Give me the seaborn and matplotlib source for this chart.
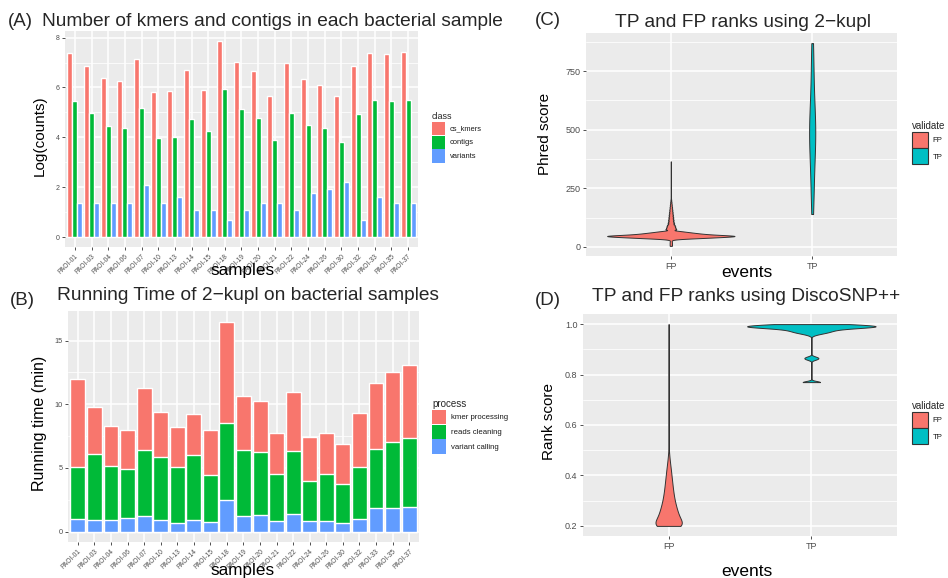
import numpy as np
import pandas as pd
import matplotlib
matplotlib.use("Agg")
import matplotlib.pyplot as plt
from matplotlib.patches import Patch
from matplotlib.ticker import MultipleLocator, FormatStrFormatter
import seaborn as sns

# ---------------- data ----------------
samples = ["PAOI-01", "PAOI-03", "PAOI-04", "PAOI-06", "PAOI-07", "PAOI-10", "PAOI-13",
           "PAOI-14", "PAOI-15", "PAOI-18", "PAOI-19", "PAOI-20", "PAOI-21", "PAOI-22",
           "PAOI-24", "PAOI-26", "PAOI-30", "PAOI-32", "PAOI-33", "PAOI-35", "PAOI-37"]

# (A) log counts
cs_kmers = [7.40, 6.87, 6.39, 6.27, 7.14, 5.83, 5.87, 6.72, 5.90, 7.87, 7.04,
            6.68, 5.66, 6.98, 6.34, 6.10, 5.66, 6.86, 7.39, 7.35, 7.43]
contigs = [5.47, 4.99, 4.45, 4.38, 5.19, 3.98, 4.02, 4.75, 4.26, 5.95, 5.15,
           4.79, 3.90, 4.99, 4.50, 4.38, 3.82, 4.95, 5.51, 5.47, 5.51]
variants = [1.39, 1.39, 1.39, 1.39, 2.08, 1.39, 1.61, 1.10, 1.10, 0.69, 1.10,
            1.39, 1.39, 1.10, 1.79, 1.95, 2.20, 0.69, 1.61, 1.39, 1.39]
class_levels = ["cs_kmers", "contigs", "variants"]

# (B) running time (min)
kmer_processing = [6.95, 3.70, 3.14, 3.07, 4.87, 3.55, 3.14, 3.23, 3.54, 7.95, 4.24,
                   4.01, 3.22, 4.64, 3.46, 3.22, 3.15, 4.28, 5.20, 5.51, 5.74]
reads_cleaning = [4.06, 5.19, 4.25, 3.85, 5.20, 4.95, 4.41, 5.11, 3.70, 6.06, 5.20,
                  4.96, 3.70, 4.96, 3.15, 3.70, 3.07, 4.06, 4.64, 5.19, 5.43]
variant_calling = [1.00, 0.92, 0.92, 1.08, 1.23, 0.92, 0.68, 0.92, 0.76, 2.49, 1.23,
                   1.31, 0.84, 1.39, 0.84, 0.84, 0.68, 1.00, 1.86, 1.86, 1.94]
process_levels = ["kmer processing", "reads cleaning", "variant calling"]

# (C) Phred scores of events (value, number of events)
fp_c_values = [4, 9, 14, 19, 24, 29, 32, 35, 38, 41, 44, 47, 50, 53, 56, 59, 62, 65, 68,
               75, 81, 87, 93, 100, 107, 114, 121, 128, 135, 142, 149, 156, 163, 170,
               177, 184, 191, 198, 205, 215, 240, 280, 320, 365]
fp_c_counts = [10, 10, 10, 10, 8, 8, 20, 90, 180, 250, 330, 360, 270, 200, 160, 130, 100, 70, 45,
               55, 47, 43, 39, 35, 31, 29, 27, 25, 23, 21, 19, 17, 15, 13,
               11, 9, 7, 5, 3, 2, 1, 1, 1, 1]
tp_c_values = [140, 200, 260, 310, 350, 390, 420, 450, 470, 490, 510, 530, 560, 590,
               630, 680, 740, 810, 870]

# (D) rank scores of events (value, number of events)
fp_d_values = [0.20, 0.22, 0.24, 0.26, 0.28, 0.30, 0.32, 0.34, 0.36, 0.38, 0.40, 0.42,
               0.44, 0.46, 0.48, 0.50, 1.00]
fp_d_counts = [95, 55, 48, 40, 34, 28, 24, 21, 18, 16, 13, 11, 8, 5, 3, 1, 1]
tp_d_values = [0.77, 0.86, 0.865, 0.87, 0.955, 0.96, 0.965, 0.97, 0.975, 0.98, 0.985,
               0.99, 0.995, 1.00]
tp_d_counts = [15, 5, 7, 5, 2, 6, 12, 16, 18, 24, 40, 60, 50, 35]
validate_levels = ["FP", "TP"]

# ---------------- style ----------------
pal3 = ["#F8766D", "#00BA38", "#619CFF"]
pal2 = ["#F8766D", "#00BFC4"]
sns.set_theme(style="darkgrid", rc={
    "axes.facecolor": "#EBEBEB", "grid.color": "white",
    "xtick.bottom": True, "ytick.left": True,
})
plt.rcParams["font.family"] = ["Liberation Sans", "DejaVu Sans"]

W, H = 948, 578
fig = plt.figure(figsize=(W / 100, H / 100), dpi=100)


def fx(x):
    return x / W


def fy(y):
    return 1 - y / H


def add_axes(l, t, r, b):
    return fig.add_axes([fx(l), fy(b), (r - l) / W, (b - t) / H])


def style(ax, major, minor, ylab_fs, xlab_fs):
    ax.set_facecolor("#EBEBEB")
    for s in ax.spines.values():
        s.set_visible(False)
    ax.yaxis.set_major_locator(MultipleLocator(major))
    ax.yaxis.set_minor_locator(MultipleLocator(minor))
    ax.grid(which="major", axis="both", color="white", lw=1.1)
    ax.grid(which="minor", axis="y", color="white", lw=0.55)
    ax.set_axisbelow(True)
    ax.tick_params(axis="y", which="major", length=2.5, width=0.6, color="#333333",
                   labelcolor="#4D4D4D", labelsize=ylab_fs, pad=1.5)
    ax.tick_params(axis="x", which="major", length=2.5, width=0.6, color="#333333",
                   labelcolor="#4D4D4D", labelsize=xlab_fs, pad=1.5)
    ax.tick_params(which="minor", length=0)


def labels(ax, xl, xpos, yl, ypos, fs_x, fs_y):
    ax.set_xlabel(xl, fontsize=fs_x, color="black")
    ax.xaxis.set_label_coords(fx(xpos[0]), fy(xpos[1]), transform=fig.transFigure)
    ax.xaxis.label.set_va("baseline")
    ax.set_ylabel(yl, fontsize=fs_y, color="black")
    ax.yaxis.set_label_coords(fx(ypos[0]), fy(ypos[1]), transform=fig.transFigure)
    ax.yaxis.label.set_va("center")


def legend(ax, title, labs, colors, x, y, fs_t, fs_l, key_px, edge=None):
    handles = [Patch(facecolor=c, edgecolor=(edge if edge else c),
                     linewidth=0.8 if edge else 0) for c in colors]
    fs_px = fs_l * 100 / 72
    hl = key_px / fs_px
    hh = (key_px / fs_px - 0.245) / 0.65
    leg = ax.legend(handles, labs, title=title, loc="upper left",
                    bbox_to_anchor=(fx(x), fy(y)), bbox_transform=fig.transFigure,
                    frameon=False, fontsize=fs_l, title_fontsize=fs_t,
                    handlelength=hl, handleheight=hh, handletextpad=0.6,
                    labelspacing=0.08, borderpad=0, borderaxespad=0)
    leg._legend_box.align = "left"
    for t in leg.get_texts():
        t.set_color("#1A1A1A")
    return leg


def bw_nrd0(kde):
    # R's bw.nrd0 (ggplot2 default bandwidth), expressed as scipy factor
    x = np.asarray(kde.dataset).ravel()
    sd = x.std(ddof=1)
    q75, q25 = np.percentile(x, [75, 25])
    lo = min(sd, (q75 - q25) / 1.34)
    if lo <= 0:
        lo = sd
    bw = 0.9 * lo * x.size ** (-0.2)
    return bw / sd


n = len(samples)

# ---------------- (A) ----------------
axA = add_axes(65, 31, 418, 247)
dfA = pd.DataFrame({
    "samples": samples * 3,
    "class": np.repeat(class_levels, n),
    "value": cs_kmers + contigs + variants,
})
sns.barplot(data=dfA, x="samples", y="value", hue="class", hue_order=class_levels,
            palette=pal3, width=0.9, gap=0, saturation=1, errorbar=None,
            legend=False, ax=axA)
topA = dfA["value"].max()
axA.set_ylim(-0.05 * topA, 1.05 * topA)
axA.set_xlim(-0.6, n - 0.4)
style(axA, 2, 1, 5, 4.8)
plt.setp(axA.get_xticklabels(), rotation=45, ha="right", rotation_mode="anchor")
labels(axA, "samples", (243, 275), "Log(counts)", (40, 136), 12.3, 11)
legend(axA, "class", class_levels, pal3, 432, 112, 6.5, 5.4, 13.3)

# ---------------- (B) ----------------
axB = add_axes(68, 311, 419, 542)
stack = np.cumsum(np.array([variant_calling, reads_cleaning, kmer_processing]), axis=0)
for layer, color in zip([2, 1, 0], pal3):
    sns.barplot(x=samples, y=stack[layer], color=color, width=0.9, saturation=1,
                errorbar=None, ax=axB)
topB = stack[2].max()
axB.set_ylim(-0.05 * topB, 1.05 * topB)
axB.set_xlim(-0.6, n - 0.4)
style(axB, 5, 2.5, 5.3, 4.8)
plt.setp(axB.get_xticklabels(), rotation=45, ha="right", rotation_mode="anchor")
labels(axB, "samples", (243, 575), "Running time (min)", (40, 423), 12.3, 11.5)
legend(axB, "process", process_levels, pal3, 432, 399, 7, 5.6, 14.3)

# ---------------- (C) ----------------
axC = add_axes(586, 33, 897, 256)
scoresC = np.concatenate([np.repeat(fp_c_values, fp_c_counts), tp_c_values]).astype(float)
dfC = pd.DataFrame({
    "events": ["FP"] * int(np.sum(fp_c_counts)) + ["TP"] * len(tp_c_values),
    "score": scoresC,
})
sns.violinplot(data=dfC, x="events", y="score", hue="events", hue_order=validate_levels,
               palette=pal2, saturation=1, cut=0, inner=None, width=0.9,
               density_norm="area", common_norm=True, bw_method=bw_nrd0,
               gridsize=512, linewidth=0.7, linecolor="#333333", legend=False, ax=axC)
loC, hiC = scoresC.min(), scoresC.max()
axC.set_ylim(loC - 0.05 * (hiC - loC), hiC + 0.05 * (hiC - loC))
axC.set_xlim(-0.6, 1.6)
style(axC, 250, 125, 6.5, 6.5)
labels(axC, "events", (747, 277), "Phred score", (545, 134), 12.5, 11)
legend(axC, "validate", validate_levels, pal2, 912, 121, 7, 5.6, 16, edge="#333333")

# ---------------- (D) ----------------
axD = add_axes(583, 314, 897, 536)
scoresD = np.concatenate([np.repeat(fp_d_values, fp_d_counts),
                          np.repeat(tp_d_values, tp_d_counts)])
dfD = pd.DataFrame({
    "events": ["FP"] * int(np.sum(fp_d_counts)) + ["TP"] * int(np.sum(tp_d_counts)),
    "score": scoresD,
})
sns.violinplot(data=dfD, x="events", y="score", hue="events", hue_order=validate_levels,
               palette=pal2, saturation=1, cut=0, inner=None, width=0.9,
               density_norm="area", common_norm=True, bw_method=bw_nrd0,
               gridsize=512, linewidth=0.7, linecolor="#333333", legend=False, ax=axD)
loD, hiD = scoresD.min(), scoresD.max()
axD.set_ylim(loD - 0.05 * (hiD - loD), hiD + 0.05 * (hiD - loD))
axD.set_xlim(-0.6, 1.6)
style(axD, 0.2, 0.1, 6.5, 6.5)
axD.yaxis.set_major_formatter(FormatStrFormatter("%.1f"))
labels(axD, "events", (747, 576), "Rank score", (549, 422), 12.5, 11)
legend(axD, "validate", validate_levels, pal2, 912, 401, 7, 5.6, 16, edge="#333333")

# ---------------- titles ----------------
fig.text(fx(8), fy(26), "(A)", fontsize=13.5, va="baseline", ha="left")
fig.text(fx(42), fy(26), "Number of kmers and contigs in each bacterial sample",
         fontsize=13.8, va="baseline", ha="left")
fig.text(fx(10), fy(305), "(B)", fontsize=13.5, va="baseline", ha="left")
fig.text(fx(57), fy(300), "Running Time of 2\u2212kupl on bacterial samples",
         fontsize=13.8, va="baseline", ha="left")
fig.text(fx(535), fy(25), "(C)", fontsize=13.5, va="baseline", ha="left")
fig.text(fx(743), fy(27), "TP and FP ranks using 2\u2212kupl",
         fontsize=13.8, va="baseline", ha="center")
fig.text(fx(535), fy(305), "(D)", fontsize=13.5, va="baseline", ha="left")
fig.text(fx(746), fy(301), "TP and FP ranks using DiscoSNP++",
         fontsize=13.8, va="baseline", ha="center")

fig.savefig("out.png", dpi=100)
